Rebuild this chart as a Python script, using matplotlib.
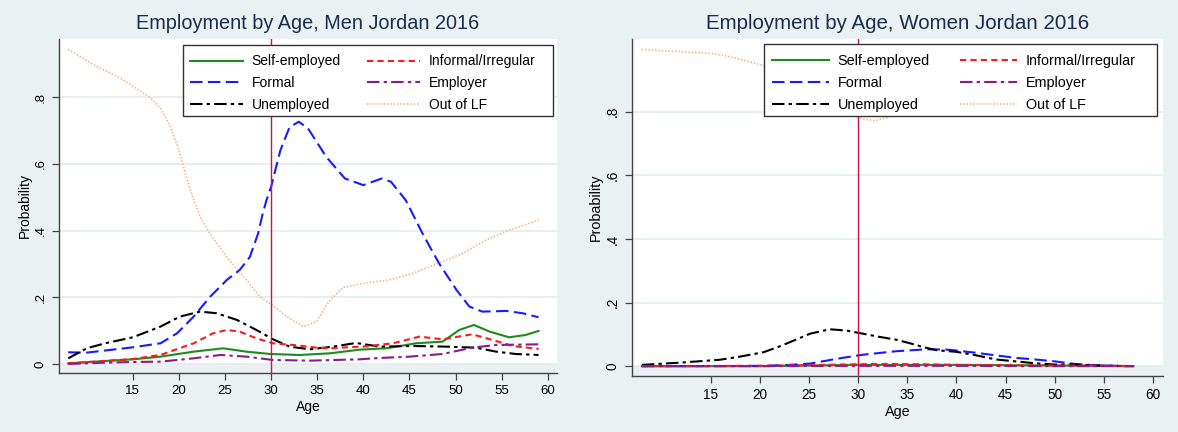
import matplotlib
matplotlib.use("Agg")
import matplotlib.pyplot as plt
from matplotlib.patches import Rectangle

plt.rcParams['font.family'] = ['Liberation Sans', 'DejaVu Sans']

# ---- Men ----
m_self_age = [8, 12, 15, 18, 21.6, 24.8, 27.3, 29.9, 33.1, 36.4, 39.6, 42.5, 45.7, 48.6, 50.4, 52.0, 53.7,
              55.8, 57.6, 59]
m_self = [0.002, 0.009, 0.014, 0.022, 0.037, 0.047, 0.037, 0.030, 0.027, 0.032, 0.043, 0.047, 0.062, 0.067,
          0.102, 0.117, 0.097, 0.080, 0.087, 0.099]

m_inf_age = [8, 12, 15, 18, 21.6, 23.7, 25.2, 26.6, 28.4, 30.2, 32.4, 34.9, 36.4, 38.2, 40, 43.2, 46.1, 48.6,
             51.8, 54.0, 56.2, 59]
m_inf = [0.002, 0.009, 0.015, 0.027, 0.062, 0.092, 0.102, 0.097, 0.077, 0.062, 0.057, 0.049, 0.047, 0.050,
         0.052, 0.062, 0.082, 0.074, 0.089, 0.072, 0.054, 0.045]

m_formal_age = [8, 10, 15, 18, 19.8, 21.6, 23.4, 25.2, 26.6, 27.7, 28.6, 29.1, 29.5, 30, 31, 32, 33, 34, 36, 38,
                40, 42, 43, 44.6, 46.4, 48.2, 50.1, 51.5, 52.9, 55.5, 57.3, 59]
m_formal = [0.035, 0.034, 0.050, 0.062, 0.092, 0.142, 0.202, 0.252, 0.282, 0.321, 0.392, 0.452, 0.491, 0.531,
            0.640, 0.710, 0.726, 0.706, 0.620, 0.556, 0.536, 0.556, 0.546, 0.491, 0.392, 0.302, 0.222, 0.172,
            0.157, 0.159, 0.152, 0.140]

m_empl_age = [8, 12, 15, 18, 21.6, 24.5, 27.3, 30.2, 34.2, 39.6, 41.8, 45, 48.6, 51.8, 54.4, 59]
m_empl = [0.000, 0.004, 0.006, 0.007, 0.017, 0.027, 0.022, 0.012, 0.010, 0.014, 0.018, 0.022, 0.030, 0.049,
          0.057, 0.059]

m_unemp_age = [8, 10, 12, 15, 18, 20.1, 22.3, 24.1, 26.3, 28.4, 30.2, 32.0, 34.2, 36.7, 39.2, 41.8, 45.4, 49.0,
               52.2, 54.4, 56.5, 59]
m_unemp = [0.017, 0.047, 0.062, 0.080, 0.112, 0.142, 0.157, 0.152, 0.132, 0.102, 0.074, 0.052, 0.044, 0.052,
           0.063, 0.052, 0.054, 0.052, 0.049, 0.037, 0.030, 0.027]

m_olf_age = [8, 10.8, 13.7, 16.2, 17.1, 18.0, 19.1, 20.0, 20.7, 21.5, 22.3, 23.5, 25.2, 27.0, 28.8, 30.1, 31.7,
             33.5, 34.9, 36.4, 37.8, 40.0, 42.8, 45.4, 48.2, 50.8, 53.3, 55.8, 59]
m_olf = [0.943, 0.896, 0.856, 0.811, 0.793, 0.766, 0.711, 0.641, 0.571, 0.500, 0.441, 0.385, 0.320, 0.262,
         0.202, 0.177, 0.142, 0.112, 0.127, 0.192, 0.229, 0.242, 0.252, 0.272, 0.302, 0.332, 0.372, 0.401,
         0.431]

# ---- Women ----
w_self_age = [8, 20, 25, 30, 35, 40, 45, 50, 55, 58]
w_self = [0.000, 0.000, 0.002, 0.004, 0.004, 0.004, 0.003, 0.002, 0.001, 0.000]

w_inf_age = [8, 20, 25, 28, 30, 33, 36, 40, 45, 50, 55, 58]
w_inf = [0.000, 0.001, 0.003, 0.005, 0.006, 0.007, 0.006, 0.004, 0.003, 0.002, 0.001, 0.000]

w_formal_age = [8, 15, 20.4, 23, 25.1, 27.8, 30.5, 33.9, 37.0, 39, 40, 42, 44, 46, 48, 50, 52, 54, 56, 58]
w_formal = [0.000, 0.000, 0.001, 0.004, 0.008, 0.023, 0.036, 0.047, 0.053, 0.052, 0.049, 0.042, 0.034, 0.026,
            0.021, 0.015, 0.007, 0.003, 0.001, 0.000]

w_empl_age = [8, 20, 30, 40, 50, 58]
w_empl = [0.000, 0.000, 0.001, 0.001, 0.000, 0.000]

w_unemp_age = [8, 11.9, 15.9, 18, 20.4, 22, 23.1, 25.1, 27.1, 28.8, 30.5, 32, 33.9, 35.5, 36.6, 38, 40, 42, 44,
               46, 48, 50, 52, 54, 58]
w_unemp = [0.004, 0.011, 0.020, 0.030, 0.044, 0.062, 0.076, 0.102, 0.116, 0.112, 0.102, 0.093, 0.083, 0.070,
           0.060, 0.050, 0.045, 0.034, 0.021, 0.015, 0.009, 0.005, 0.005, 0.002, 0.000]

w_olf_age = [8, 10, 12, 15, 17, 19, 20.2, 22, 24, 26, 28, 29.4, 30.5, 31.7, 33.2, 35, 40, 45, 50, 55, 58]
w_olf = [0.996, 0.992, 0.989, 0.984, 0.973, 0.957, 0.947, 0.925, 0.890, 0.850, 0.810, 0.790, 0.778, 0.772,
         0.784, 0.820, 0.880, 0.930, 0.965, 0.985, 0.990]

labels = ["Self-employed", "Formal", "Unemployed", "Informal/Irregular", "Employer", "Out of LF"]
yticks = [0, 0.2, 0.4, 0.6, 0.8]
ytick_labels = ["0", ".2", ".4", ".6", ".8"]
xticks = [15, 20, 25, 30, 35, 40, 45, 50, 55, 60]

bg = "#eaf1f3"
styles = {
    "Self-employed": dict(color="#1f8a1f", ls="-", lw=1.5),
    "Informal/Irregular": dict(color="#ff1a1a", ls=(0, (3.0, 2.0)), lw=1.5),
    "Formal": dict(color="#1a1aff", ls=(0, (6.0, 2.6)), lw=1.5),
    "Employer": dict(color="#8b1a8b", ls=(0, (6.0, 2.0, 1.6, 2.0)), lw=1.5),
    "Unemployed": dict(color="black", ls=(0, (6.0, 2.0, 1.6, 2.0)), lw=1.5),
    "Out of LF": dict(color="#f7ad78", ls=(0, (0.8, 1.2)), lw=1.2),
}

fig = plt.figure(figsize=(11.78, 4.32), dpi=100, facecolor=bg)
ax1 = fig.add_axes([59 / 1178, 1 - 373 / 432, 498 / 1178, 334 / 432])
ax2 = fig.add_axes([632 / 1178, 1 - 376 / 432, 531 / 1178, 337 / 432])

# per panel: axes, title, ylim, font scale, legend frame (x0, y0, x1, y1 in axes coords),
# legend anchor, handlelength, columnspacing, series
panels = [
    (ax1, "Employment by Age, Men Jordan 2016", (-0.027, 0.974), 1.0,
     (124 / 498, 257.5 / 334, 494 / 498, 328.5 / 334), (131 / 498, 318.5 / 334), 3.8, 1.9,
     {"Self-employed": (m_self_age, m_self), "Formal": (m_formal_age, m_formal),
      "Unemployed": (m_unemp_age, m_unemp), "Informal/Irregular": (m_inf_age, m_inf),
      "Employer": (m_empl_age, m_empl), "Out of LF": (m_olf_age, m_olf)}),
    (ax2, "Employment by Age, Women Jordan 2016", (-0.031, 1.029), 1.035,
     (132 / 531, 260.5 / 337, 525 / 531, 331.5 / 337), (140 / 531, 321.5 / 337), 3.95, 2.1,
     {"Self-employed": (w_self_age, w_self), "Formal": (w_formal_age, w_formal),
      "Unemployed": (w_unemp_age, w_unemp), "Informal/Irregular": (w_inf_age, w_inf),
      "Employer": (w_empl_age, w_empl), "Out of LF": (w_olf_age, w_olf)}),
]

for ax, title, ylim, fs, frame, leg_pos, hlen, cspace, series in panels:
    ax.set_facecolor(bg)
    ax.set_xlim(7, 61)
    ax.set_ylim(*ylim)
    # white plot region sits above the zero line
    ax.axhspan(0, ylim[1], color="white", zorder=0, lw=0)
    for y in yticks:
        ax.axhline(y, color="#e3ecef", lw=1.2, zorder=0.5)

    handles = []
    for name in labels:
        x, y = series[name]
        st = styles[name]
        h, = ax.plot(x, y, color=st["color"], ls=st["ls"], lw=st["lw"], label=name, zorder=2)
        handles.append(h)
    ax.axvline(30, color="#cc1144", lw=1.0, zorder=3)

    ax.set_xticks(xticks)
    ax.set_yticks(yticks)
    ax.set_yticklabels(ytick_labels, rotation=90, va="center")
    ax.tick_params(axis="both", labelsize=9.5 * fs, length=5, width=0.9, color="#444444", direction="out")
    ax.tick_params(axis="y", pad=4)
    for s in ["top", "right"]:
        ax.spines[s].set_visible(False)
    for s in ["left", "bottom"]:
        ax.spines[s].set_color("#444444")
        ax.spines[s].set_linewidth(1.0)
    ax.set_xlabel("Age", fontsize=10 * fs, labelpad=2)
    ax.set_ylabel("Probability", fontsize=10 * fs, labelpad=2)
    ax.set_title(title, fontsize=14.3 * fs, color="#1c2b4f", pad=7)

    # legend box drawn separately so it can have Stata's wide right margin
    x0, y0, x1, y1 = frame
    ax.add_patch(Rectangle((x0, y0), x1 - x0, y1 - y0, transform=ax.transAxes, facecolor="white",
                           edgecolor="#333333", lw=1.0, zorder=4, clip_on=False))
    leg = ax.legend(handles=handles, ncol=2, loc="upper left", bbox_to_anchor=leg_pos,
                    fontsize=10 * fs, frameon=False, handlelength=hlen, handletextpad=0.63,
                    columnspacing=cspace, labelspacing=0.55, borderpad=0, borderaxespad=0)
    leg.set_zorder(5)

fig.savefig("out.png", dpi=100, facecolor=bg)
